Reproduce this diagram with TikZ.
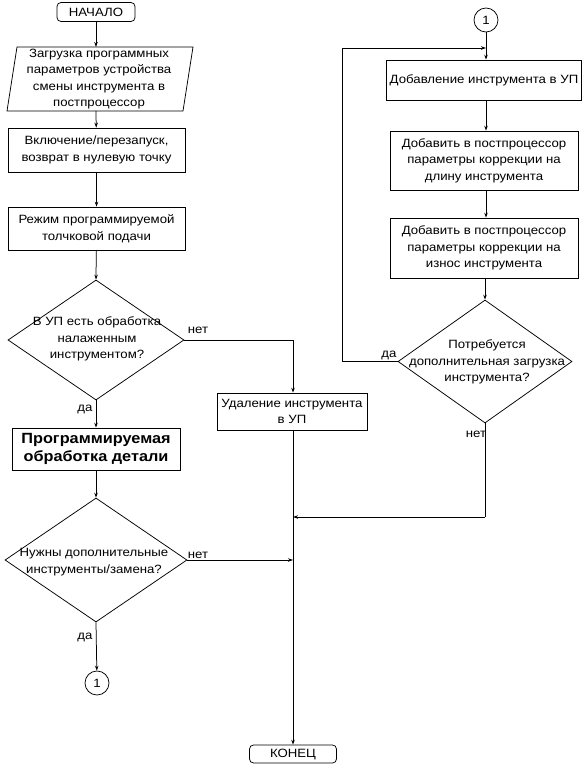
\documentclass[tikz,border=0pt]{standalone}
\usepackage{fontspec}
\setmainfont{Liberation Sans}[FakeStretch=1.1]
\usetikzlibrary{shapes.geometric,arrows.meta}
\begin{document}
\begin{tikzpicture}[x=1pt,y=-1pt,
  every node/.style={font=\fontsize{12}{16.5}\selectfont},
  line/.style={draw, line width=0.75pt},
  arr/.style={line, -{Stealth[length=5pt,width=3.5pt]}},
  boxnode/.style={draw, line width=0.75pt, rectangle, align=center, inner sep=1pt},
  term/.style={draw, line width=0.75pt, rounded corners=4pt, align=center, inner sep=0pt},
  dia/.style={draw, line width=0.75pt, diamond, inner sep=0pt},
  conn/.style={draw, line width=0.75pt, circle, inner sep=0pt, minimum size=24pt},
  txt/.style={align=center, inner sep=0pt},
  lbl/.style={inner sep=0pt}]
\useasboundingbox (0,0) rectangle (583,765);

% left column
\node[term, minimum width=78pt, minimum height=19pt] (start) at (96,12) {НАЧАЛО};
\node[txt] (p1) at (99,79) {Загрузка программных\\параметров устройства\\смены инструмента в\\постпроцессор};
\draw[line] (17,47) -- (193,47) -- (183,111) -- (7,111) -- cycle;
\coordinate (p1top) at (96,47);
\coordinate (p1bot) at (96,111);
\node[boxnode, minimum width=177pt, minimum height=44pt] (b2) at (96.5,150) {Включение/перезапуск,\\возврат в нулевую точку};
\node[boxnode, minimum width=177pt, minimum height=43pt] (b3) at (96.5,228.5) {Режим программируемой\\толчковой подачи};
\node[dia, minimum width=176pt, minimum height=120pt] (d1) at (96,340) {};
\node[txt] (d1t) at (97,339) {В УП есть обработка\\налаженным\\инструментом?};
\node[boxnode, minimum width=168pt, minimum height=42pt, font=\fontsize{14.8}{18}\selectfont\bfseries] (b4) at (96,449) {Программируемая\\обработка детали};
\node[dia, minimum width=182pt, minimum height=124pt] (d2) at (96,560) {};
\node[txt] (d2t) at (94,562) {Нужны дополнительные\\инструменты/замена?};
\node[conn] (c1) at (97,683) {1};

% middle column
\node[boxnode, minimum width=150pt, minimum height=37pt] (del) at (292,411.5) {Удаление инструмента\\в УП};
\node[term, minimum width=87pt, minimum height=18pt] (end) at (293,754) {КОНЕЦ};

% right column
\node[conn] (c2) at (486,20) {1};
\node[boxnode, minimum width=195pt, minimum height=40pt] (r1) at (484,80) {Добавление инструмента в УП};
\node[boxnode, minimum width=188pt, minimum height=59pt] (r2) at (484,160.5) {Добавить в постпроцессор\\параметры коррекции на\\длину инструмента};
\node[boxnode, minimum width=188pt, minimum height=60pt] (r3) at (484,248) {Добавить в постпроцессор\\параметры коррекции на\\износ инструмента};
\node[dia, minimum width=174pt, minimum height=123pt] (d3) at (485,361.5) {};
\node[txt] (d3t) at (487,362) {Потребуется\\дополнительная загрузка\\инструмента?};

% junctions
\coordinate (j1) at (293,340);
\coordinate (j2) at (293,517);
\coordinate (j3) at (293,560);
\coordinate (j4) at (485,517);
\coordinate (l1) at (342,361.5);
\coordinate (l2) at (342,48);
\coordinate (l3) at (486,48);

% connectors left
\draw[arr] (start) -- (p1top);
\draw[arr] (p1bot) -- (b2);
\draw[arr] (b2) -- (b3);
\draw[arr] (b3) -- (d1.north);
\draw[arr] (d1.south) -- (b4);
\draw[arr] (b4) -- (d2.north);
\draw[arr] (d2.south) -- (c1);
\draw[line] (d1.east) -- (j1);
\draw[arr] (j1) -- (del.north -| j1);
\draw[arr] (del.south -| j1) -- (end.north -| j1);
\draw[arr] (d2.east) -- (j3);

% connectors right
\draw[arr] (c2) -- (r1.north -| c2);
\draw[arr] (r1.south -| c2) -- (r2.north -| c2);
\draw[arr] (r2.south -| c2) -- (r3.north -| c2);
\draw[arr] (r3.south -| d3) -- (d3.north);
\draw[line] (d3.west) -- (l1) -- (l2);
\draw[arr] (l2) -- (l3);
\draw[line] (d3.south) -- (j4);
\draw[arr] (j4) -- (j2);

% labels
\node[lbl] (n1) at (198,330) {нет};
\node[lbl] (y1) at (85,409) {да};
\node[lbl] (n2) at (198,555) {нет};
\node[lbl] (y2) at (85,637) {да};
\node[lbl] (y3) at (389,355) {да};
\node[lbl] (n3) at (476,434) {нет};
\end{tikzpicture}
\end{document}
